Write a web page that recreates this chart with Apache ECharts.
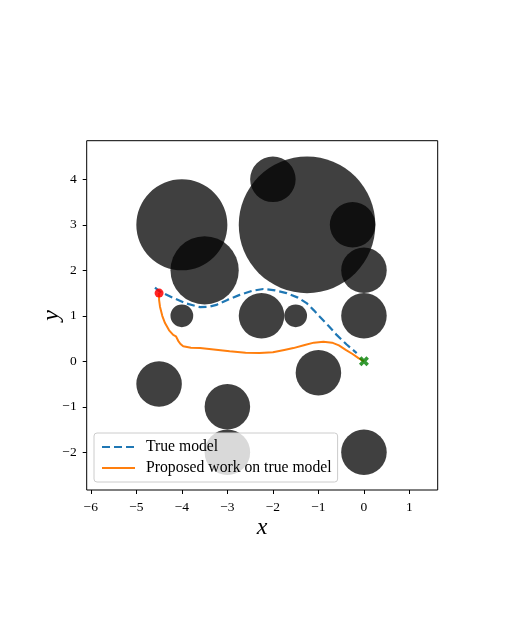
<!DOCTYPE html>
<html>
<head>
  <meta charset="utf-8">
  <title>obstacles</title>
  <script src="https://cdn.jsdelivr.net/npm/echarts@6/dist/echarts.min.js"></script>
</head>
<body style="margin:0;background:#fff;">
<div id="main" style="width:509px;height:637px;"></div>
<script>
// obstacles: centre x, centre y, radius
var obsX = [-4, -3.5, -2, -1.25, -0.25, 0, 0, -4, -2.25, -1.5, -1, -4.5, -3, -3, 0];
var obsY = [3, 2, 4, 3, 3, 2, 1, 1, 1, 1, -0.25, -0.5, -1, -2, -2];
var obsR = [1, 0.75, 0.5, 1.5, 0.5, 0.5, 0.5, 0.25, 0.5, 0.25, 0.5, 0.5, 0.5, 0.5, 0.5];

// true model path
var trueX = [-4.59, -4.48, -4.2, -3.9, -3.6, -3.4, -3.24, -3.0, -2.73, -2.45, -2.21, -1.95, -1.7, -1.45, -1.26, -1.1, -0.97, -0.78, -0.6, -0.38, -0.16];
var trueY = [1.62, 1.53, 1.4, 1.27, 1.19, 1.2, 1.24, 1.35, 1.46, 1.55, 1.59, 1.56, 1.5, 1.4, 1.28, 1.12, 0.98, 0.78, 0.58, 0.37, 0.18];

// proposed work path
var propX = [-4.5, -4.5, -4.48, -4.43, -4.37, -4.28, -4.19, -4.13, -4.1, -4.08, -4.03, -3.97, -3.8, -3.6, -3.3, -2.95, -2.6, -2.29, -2.0, -1.75, -1.55, -1.3, -1.1, -0.89, -0.7, -0.55, -0.4, -0.25, -0.12, 0];
var propY = [1.5, 1.35, 1.2, 1.0, 0.84, 0.68, 0.58, 0.55, 0.58, 0.45, 0.38, 0.33, 0.3, 0.29, 0.26, 0.22, 0.19, 0.18, 0.2, 0.25, 0.29, 0.36, 0.41, 0.43, 0.41, 0.35, 0.25, 0.16, 0.07, 0];

var startPt = [-4.5, 1.5];
var goalPt = [0, 0];

var xTicks = [-6, -5, -4, -3, -2, -1, 0, 1];
var yTicks = [-2, -1, 0, 1, 2, 3, 4];

var obsData = [];
for (var i = 0; i < obsX.length; i++) obsData.push([obsX[i], obsY[i], obsR[i]]);
var trueData = trueX.map(function (v, i) { return [v, trueY[i]]; });
var propData = propX.map(function (v, i) { return [v, propY[i]]; });

function fmt(v) { return String(v).replace('-', '\u2212'); }

var serif = 'Liberation Serif';
var myChart = echarts.init(document.getElementById('main'));
var option = {
  animation: false,
  grid: {
    left: 86.7, top: 140.7, width: 351, height: 349.3,
    show: true, borderColor: '#000', borderWidth: 1, backgroundColor: 'transparent'
  },
  xAxis: {
    type: 'value', min: -6.09, max: 1.62,
    name: 'x', nameLocation: 'middle', nameGap: 26, nameMoveOverlap: false,
    nameTextStyle: { fontFamily: serif, fontStyle: 'italic', fontSize: 24, color: '#000' },
    axisLine: { show: false, onZero: false },
    splitLine: { show: false },
    axisTick: { show: true, length: 4, lineStyle: { color: '#000' }, customValues: xTicks },
    axisLabel: { fontFamily: serif, fontSize: 13.5, color: '#000', margin: 10, customValues: xTicks, formatter: fmt }
  },
  yAxis: {
    type: 'value', min: -2.83, max: 4.85,
    name: 'y', nameLocation: 'middle', nameGap: 23, nameRotate: 90, nameMoveOverlap: false,
    nameTextStyle: { fontFamily: serif, fontStyle: 'italic', fontSize: 24, color: '#000' },
    axisLine: { show: false, onZero: false },
    splitLine: { show: false },
    axisTick: { show: true, length: 4, lineStyle: { color: '#000' }, customValues: yTicks },
    axisLabel: { fontFamily: serif, fontSize: 13.5, color: '#000', margin: 10, customValues: yTicks, formatter: fmt }
  },
  legend: {
    orient: 'vertical',
    left: 94, top: 433,
    padding: [6, 6, 6, 7],
    itemWidth: 33, itemHeight: 12, itemGap: 5,
    backgroundColor: 'rgba(255,255,255,0.8)',
    borderColor: '#cccccc', borderWidth: 1, borderRadius: 3,
    itemStyle: { opacity: 0 },
    textStyle: { fontFamily: serif, fontSize: 15.7, color: '#000', padding: [0, 0, 0, 6] },
    data: ['True model', 'Proposed work on true model']
  },
  series: [
    {
      type: 'custom',
      silent: true,
      z: 1,
      data: obsData,
      encode: { x: 0, y: 1 },
      renderItem: function (params, api) {
        var c = api.coord([api.value(0), api.value(1)]);
        var r = api.size([api.value(2), 0])[0];
        return { type: 'circle', shape: { cx: c[0], cy: c[1], r: r }, style: { fill: 'rgba(0,0,0,0.75)' } };
      }
    },
    {
      name: 'True model',
      type: 'line', z: 3,
      data: trueData, showSymbol: false, symbol: 'none',
      lineStyle: { color: '#1f77b4', width: 2.2, type: [8, 4] },
      itemStyle: { color: '#1f77b4' }
    },
    {
      name: 'Proposed work on true model',
      type: 'line', z: 3,
      data: propData, showSymbol: false, symbol: 'none',
      lineStyle: { color: '#ff7f0e', width: 2 },
      itemStyle: { color: '#ff7f0e' }
    },
    {
      type: 'scatter', z: 4,
      data: [startPt], symbol: 'circle', symbolSize: 9,
      itemStyle: { color: '#ff0000', opacity: 0.85 }
    },
    {
      type: 'scatter', z: 4,
      data: [goalPt],
      symbol: 'path://M0,2.5 L2.5,0 L5,2.5 L7.5,0 L10,2.5 L7.5,5 L10,7.5 L7.5,10 L5,7.5 L2.5,10 L0,7.5 L2.5,5 Z',
      symbolSize: 10,
      itemStyle: { color: '#008000' }
    }
  ]
};
myChart.setOption(option);
</script>
</body>
</html>
